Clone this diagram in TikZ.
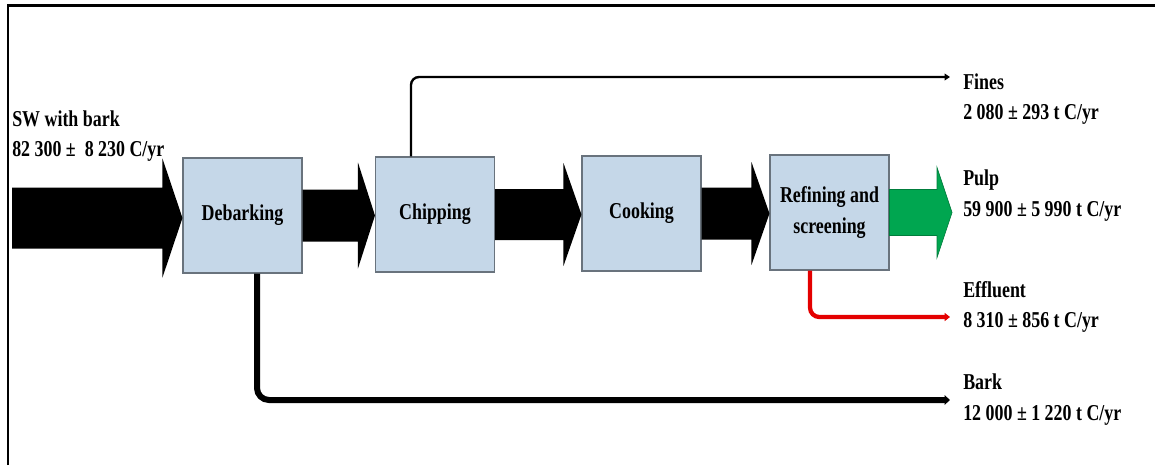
\documentclass[tikz,border=0pt]{standalone}
\usepackage{fontspec}
\setmainfont{Liberation Serif}
\newfontfamily\flowfont[FakeStretch=0.79]{Liberation Serif}
\usetikzlibrary{calc,arrows.meta}

\definecolor{boxfill}{RGB}{197,215,232}
\definecolor{boxline}{RGB}{105,115,125}
\definecolor{pulpgreen}{RGB}{0,166,80}
\definecolor{effred}{RGB}{228,0,0}

% Block arrow: style, start point, tip point, body half height, head half height, head length (px)
\newcommand{\blockarrow}[6]{%
  \path[#1] let \p1=(#2), \p2=(#3) in
    (\x1,\y1+#4*0.75pt) -- (\x2-#6*0.75pt,\y1+#4*0.75pt) -- (\x2-#6*0.75pt,\y1+#5*0.75pt)
    -- (\x2,\y1) -- (\x2-#6*0.75pt,\y1-#5*0.75pt) -- (\x2-#6*0.75pt,\y1-#4*0.75pt)
    -- (\x1,\y1-#4*0.75pt) -- cycle;
}

\tikzset{
  flowtext/.style={font={\flowfont\bfseries\fontsize{17}{23}\selectfont}},
  stage/.style={flowtext, draw=boxline, fill=boxfill, line width=0.8pt,
    minimum width=89.25pt, minimum height=86.25pt, inner sep=0pt, align=center},
  flowlabel/.style={flowtext, anchor=west, align=left, inner sep=0pt},
  fines/.style={draw=black, line width=1.8pt, rounded corners=6pt,
    -{Triangle[length=4pt,width=5pt]}},
  barkline/.style={draw=black, line width=4.5pt, rounded corners=9pt,
    -{Triangle[length=4pt,width=7pt]}},
  effline/.style={draw=effred, line width=3.2pt, rounded corners=7pt,
    -{Triangle[length=4pt,width=6pt]}},
}

\begin{document}
\begin{tikzpicture}[x=0.75pt,y=-0.75pt]
  \useasboundingbox (0,0) rectangle (1155,465);

  % frame
  \draw[line width=1.5pt] (8,465) -- (8,5);
  \draw[line width=2.25pt] (7.4,5) -- (1155,5);

  % process stages
  \node[stage] (deb)  at (242.5,215.5) {Debarking};
  \node[stage] (chip) at (435,214.5)   {Chipping};
  \node[stage] (cook) at (641.5,213.5) {Cooking};
  \node[stage] (ref)  at (829.5,212.5) {Refining and\\screening};

  % stream ends
  \coordinate (src)      at (12,218);
  \coordinate (pulpEnd)  at (952,213);
  \coordinate (finesEnd) at (950,77);
  \coordinate (effEnd)   at (950,317);
  \coordinate (barkEnd)  at (950,400);

  % main flow
  \blockarrow{fill=black}{src}{deb.west}{30.5}{59.5}{20}
  \blockarrow{fill=black}{deb.east}{chip.west}{26}{53}{17}
  \blockarrow{fill=black}{chip.east}{cook.west}{25.5}{51.5}{18}
  \blockarrow{fill=black}{cook.east}{ref.west}{26}{51.5}{18}
  \blockarrow{fill=pulpgreen,draw=pulpgreen!75!black,line width=0.5pt}{ref.east}{pulpEnd}{23}{45}{15}

  % side streams
  \draw[fines]    ($(chip.north west)+(36,0)$) |- (finesEnd);
  \draw[barkline] ($(deb.south)+(14.5,0)$) |- (barkEnd);
  \draw[effline]  ($(ref.south)+(-19.5,0)$) |- (effEnd);

  % stream labels
  \node[flowlabel] (swlbl)    at (12,136)    {SW with bark\\82 300 ± \ 8 230 C/yr};
  \node[flowlabel] (fineslbl) at (963,99)    {Fines\\2 080 ± 293 t C/yr};
  \node[flowlabel] (pulplbl)  at (963,195.5) {Pulp\\59 900 ± 5 990 t C/yr};
  \node[flowlabel] (efflbl)   at (963,307)   {Effluent\\8 310 ± 856 t C/yr};
  \node[flowlabel] (barklbl)  at (963,399.5) {Bark\\12 000 ± 1 220 t C/yr};
\end{tikzpicture}
\end{document}
